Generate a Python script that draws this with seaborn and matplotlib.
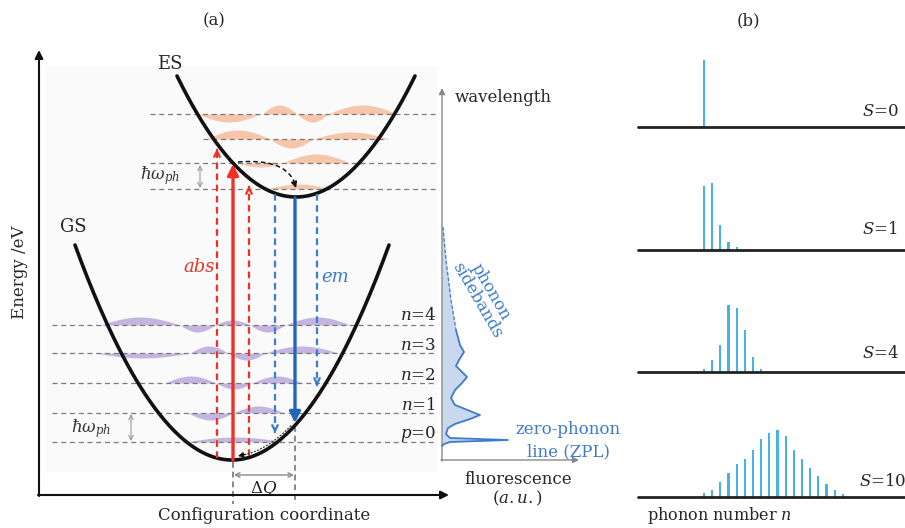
#!/usr/bin/env python3
"""
Configuration-coordinate diagram (a) and Poisson phonon distributions (b).
Panel (a) is drawn in pixel coordinates of a full-figure axes,
panel (b) uses four small axes in phonon-number units.
"""

import numpy as np
import matplotlib.pyplot as plt
import seaborn as sns

# ============================== DATA ========================================
# potential wells: vertex (x, y) and half-width / rise (px)
GS_VERTEX = (232, 460)
GS_HALF, GS_RISE = 157, 215
ES_VERTEX = (296, 197)
ES_HALF, ES_RISE = 119, 121

# vibrational levels (y in px) and their wavefunction lobes (x0, x1, height)
GS_LEVELS = [442, 413, 383, 353, 325]
GS_LABELS = ["$p$=0", "$n$=1", "$n$=2", "$n$=3", "$n$=4"]
GS_LABEL_Y = [434, 406, 376, 346, 316]
GS_LOBES = [
    [(185, 285, 5)],
    [(188, 233, -7), (233, 284, 7)],
    [(165, 216, 7), (216, 252, -6), (252, 302, 7)],
    [(95, 190, -5), (190, 228, 7), (228, 265, -7), (265, 338, 7)],
    [(100, 180, 8), (180, 215, -7), (215, 250, 5), (250, 285, -7), (285, 350, 8)],
]
ES_LEVELS = [189, 163, 139, 114]
ES_LINE_X = [(150, 437), (150, 437), (203, 387), (150, 437)]
ES_LOBES = [
    [(266, 330, 5)],
    [(238, 283, -4), (283, 350, 9)],
    [(206, 270, 9), (270, 313, -9), (313, 389, 7)],
    [(198, 260, -8), (262, 297, 9), (297, 328, -8), (328, 397, 9)],
]

# transitions: x, start y, tip y
ABS_SOLID = (233, 460, 164)
ABS_DASHED = [(217, 458, 146), (249, 456, 183)]
EM_SOLID = (295, 198, 423)
EM_DASHED = [(275, 194, 436), (317, 194, 389)]

# fluorescence spectrum: position along wavelength axis (px) and intensity (px)
SPEC_POS = [227, 260, 300, 330, 345, 352, 360, 366, 372, 377, 383, 390, 398,
            405, 411, 415, 419, 424, 428, 434, 438, 440, 442, 444, 446]
SPEC_INT = [1, 4, 9, 14, 18, 22, 17, 14, 20, 25, 20, 13, 9,
            13, 28, 38, 28, 13, 6, 4, 8, 66, 8, 2, 0]

# panel (b): Huang-Rhys factors and normalised phonon-number intensities
S_VALUES = ["0", "1", "4", "10"]
S_BASELINE = [127, 250, 372, 497]
S_LABEL_Y = [112, 230, 353, 482]
S_LABEL_X = [862, 862, 862, 859]
S0_INT = [1.0]
S1_INT = [0.96, 1.0, 0.38, 0.12, 0.04]
S4_INT = [0.04, 0.18, 0.41, 1.0, 0.95, 0.63, 0.22, 0.04]
S10_INT = [0.06, 0.10, 0.22, 0.36, 0.49, 0.57, 0.70, 0.87, 0.95, 1.0,
           0.91, 0.70, 0.57, 0.44, 0.31, 0.19, 0.10, 0.05]

# ============================== STYLE =======================================
W, H = 905, 528
RED = "#ee3124"
BLUE = "#2166b8"
BLUE_D = "#3d7ccc"
STEM = "#45b3e8"
PURPLE = "#c4b4e0"
ORANGE = "#f6c6aa"
GRAY = "#7a7a7a"

sns.set_theme(style="white")
plt.rcParams["font.family"] = ["DejaVu Serif"]
plt.rcParams["mathtext.fontset"] = "dejavuserif"
FS = 12


def well(vertex, half, rise):
    xs = np.linspace(vertex[0] - half, vertex[0] + half, 200)
    ys = vertex[1] - rise * ((xs - vertex[0]) / half) ** 2
    return xs, ys


def draw_lobes(ax, y0, lobes, color):
    for x0, x1, amp in lobes:
        xs = np.linspace(x0, x1, 40)
        ys = y0 - amp * np.sin(np.pi * (xs - x0) / (x1 - x0))
        ax.fill_between(xs, y0, ys, color=color, lw=0, zorder=1)


def arrow(ax, x, y0, y1, color, lw, dashed=False):
    if dashed:
        step = 7 if y1 < y0 else -7
        ax.plot([x, x], [y0, y1 + step], color=color, lw=lw,
                ls=(0, (3, 2)), zorder=4)
        ax.annotate("", xy=(x, y1), xytext=(x, y1 + step),
                    arrowprops=dict(arrowstyle="->", color=color, lw=lw,
                                    mutation_scale=10), zorder=4)
    else:
        ax.annotate("", xy=(x, y1), xytext=(x, y0),
                    arrowprops=dict(arrowstyle="-|>", color=color, lw=lw,
                                    mutation_scale=16, shrinkA=0, shrinkB=0),
                    zorder=4)


def main():
    fig = plt.figure(figsize=(W / 100, H / 100), dpi=100)
    ax = fig.add_axes([0, 0, 1, 1])
    ax.set_xlim(0, W)
    ax.set_ylim(H, 0)
    ax.axis("off")

    # faint panel background
    ax.add_patch(plt.Rectangle((46, 66), 391, 406, color="#fafafb", lw=0, zorder=0))

    # wavefunction lobes and level lines
    for y0, lobes in zip(GS_LEVELS, GS_LOBES):
        draw_lobes(ax, y0, lobes, PURPLE)
        ax.plot([52, 437], [y0, y0], color=GRAY, lw=0.9, ls=(0, (4, 3)), zorder=2)
    for y0, lobes, (xa, xb) in zip(ES_LEVELS, ES_LOBES, ES_LINE_X):
        draw_lobes(ax, y0, lobes, ORANGE)
        ax.plot([xa, xb], [y0, y0], color=GRAY, lw=0.9, ls=(0, (4, 3)), zorder=2)
    for lab, y in zip(GS_LABELS, GS_LABEL_Y):
        ax.text(436, y, lab, ha="right", va="center", fontsize=FS, color="#222")

    # potential wells
    gx, gy = well(GS_VERTEX, GS_HALF, GS_RISE)
    ex, ey = well(ES_VERTEX, ES_HALF, ES_RISE)
    sns.lineplot(x=gx, y=gy, ax=ax, color="#111", lw=2.6, sort=False, zorder=3)
    sns.lineplot(x=ex, y=ey, ax=ax, color="#111", lw=2.6, sort=False, zorder=3)

    # absorption / emission
    arrow(ax, *ABS_SOLID, RED, 2.4)
    for a in ABS_DASHED:
        arrow(ax, *a, RED, 1.6, dashed=True)
    arrow(ax, *EM_SOLID, BLUE, 2.4)
    for a in EM_DASHED:
        arrow(ax, *a, BLUE_D, 1.6, dashed=True)

    # relaxation in ES (dashed curve)
    t = np.linspace(0, 0.88, 30)
    p0, p1, p2 = np.array([238, 162]), np.array([290, 158]), np.array([296, 188])
    bz = np.outer((1 - t) ** 2, p0) + np.outer(2 * (1 - t) * t, p1) + np.outer(t ** 2, p2)
    ax.plot(bz[:, 0], bz[:, 1], color="#111", lw=1.1, ls=(0, (3, 2)), zorder=5)
    ax.annotate("", xy=p2, xytext=bz[-1], zorder=5,
                arrowprops=dict(arrowstyle="-|>", color="#111", lw=1.0,
                                mutation_scale=9, shrinkA=0, shrinkB=0))

    # relaxation in GS (dotted curve along the well)
    rx = np.linspace(291, 246, 30)
    ry = GS_VERTEX[1] - GS_RISE * ((rx - GS_VERTEX[0]) / GS_HALF) ** 2 - 4
    ax.plot(rx, ry, color="#333", lw=0.9, ls=(0, (1.5, 1.2)), zorder=5)
    ax.annotate("", xy=(238, 456), xytext=(rx[-1], ry[-1]), zorder=5,
                arrowprops=dict(arrowstyle="-|>", color="#111", lw=0.8,
                                mutation_scale=8, shrinkA=0, shrinkB=0))

    # Delta Q
    ax.plot([233, 233], [462, 504], color="#888", lw=1.4, ls=(0, (3, 2)), zorder=2)
    ax.plot([295, 295], [426, 504], color="#888", lw=1.4, ls=(0, (3, 2)), zorder=2)
    ax.annotate("", xy=(234, 475), xytext=(294, 475),
                arrowprops=dict(arrowstyle="<->", color="#888", lw=1.0,
                                mutation_scale=8, shrinkA=0, shrinkB=0))
    ax.text(264, 489, r"$\Delta Q$", ha="center", va="center", fontsize=FS, color="#222")

    # hbar omega markers
    for tx, ty, axx, ya, yb in [(160, 176, 200, 165, 188), (91, 429, 131, 414, 441)]:
        ax.text(tx, ty, r"$\hbar\omega_{ph}$", ha="center", va="center",
                fontsize=FS, color="#333")
        ax.annotate("", xy=(axx, ya), xytext=(axx, yb),
                    arrowprops=dict(arrowstyle="<->", color="#999", lw=0.8,
                                    mutation_scale=8, shrinkA=0, shrinkB=0))

    # main axes arrows
    ax.annotate("", xy=(39, 50), xytext=(39, 496),
                arrowprops=dict(arrowstyle="-|>", color="#111", lw=1.5,
                                mutation_scale=12, shrinkA=0, shrinkB=0))
    ax.annotate("", xy=(449, 495), xytext=(38, 495),
                arrowprops=dict(arrowstyle="-|>", color="#111", lw=1.5,
                                mutation_scale=12, shrinkA=0, shrinkB=0))

    # fluorescence inset axes
    ax.annotate("", xy=(442, 88), xytext=(442, 461),
                arrowprops=dict(arrowstyle="-|>", color="#888", lw=1.0,
                                mutation_scale=9, shrinkA=0, shrinkB=0))
    ax.annotate("", xy=(579, 460), xytext=(441, 460),
                arrowprops=dict(arrowstyle="-|>", color="#888", lw=1.0,
                                mutation_scale=9, shrinkA=0, shrinkB=0))
    sx = 442 + np.array(SPEC_INT)
    sy = np.array(SPEC_POS)
    ax.fill_betweenx(sy, 442, sx, color="#c9d8ee", lw=0, zorder=2)
    top = sy <= 330
    sns.lineplot(x=sx[top], y=sy[top], ax=ax, color=BLUE_D, lw=0.9,
                 ls=(0, (3, 1.5)), sort=False, estimator=None, zorder=3)
    sns.lineplot(x=sx[sy >= 330], y=sy[sy >= 330], ax=ax, color=BLUE_D,
                 lw=1.3, sort=False, estimator=None, zorder=3)

    # texts
    ax.text(214, 21, "(a)", ha="center", va="center", fontsize=FS)
    ax.text(748, 21, "(b)", ha="center", va="center", fontsize=FS)
    ax.text(170, 64, "ES", ha="center", va="center", fontsize=FS + 1)
    ax.text(73, 227, "GS", ha="center", va="center", fontsize=FS + 1)
    ax.text(19, 272, "Energy /eV", ha="center", va="center", rotation=90, fontsize=FS)
    ax.text(264, 516, "Configuration coordinate", ha="center", va="center", fontsize=FS)
    ax.text(199, 267, "abs", ha="center", va="center", fontsize=FS + 1,
            color=RED, style="italic")
    ax.text(335, 277, "em", ha="center", va="center", fontsize=FS + 1,
            color=BLUE_D, style="italic")
    ax.text(455, 97, "wavelength", ha="left", va="center", fontsize=FS)
    ax.text(518, 480, "fluorescence", ha="center", va="center", fontsize=FS)
    ax.text(518, 498, "($a.u.$)", ha="center", va="center", fontsize=FS)
    ax.text(484, 296, "phonon\nsidebands", ha="center", va="center",
            rotation=-60, fontsize=FS, color=BLUE_D, linespacing=0.9)
    ax.text(568, 430, "zero-phonon", ha="center", va="center", fontsize=FS, color=BLUE_D)
    ax.text(568, 452, "line (ZPL)", ha="center", va="center", fontsize=FS, color=BLUE_D)

    # panel (b)
    n0_px, dn_px, unit_px, box_px = 704, 8.17, 67, 90
    x_left, x_right = 638, W
    for s, base, lx, ly, vals in zip(S_VALUES, S_BASELINE, S_LABEL_X, S_LABEL_Y,
                                     [S0_INT, S1_INT, S4_INT, S10_INT]):
        axb = fig.add_axes([x_left / W, (H - base) / H,
                            (x_right - x_left) / W, box_px / H])
        axb.patch.set_alpha(0)
        n = np.arange(len(vals))
        sns.barplot(x=n, y=vals, ax=axb, native_scale=True, width=0.26,
                    color=STEM, saturation=1, linewidth=0, errorbar=None)
        axb.set_xlim((x_left - n0_px) / dn_px, (x_right - n0_px) / dn_px)
        axb.set_ylim(0, box_px / unit_px)
        axb.axhline(0, color="#222", lw=2.0, clip_on=False)
        axb.axis("off")
        ax.text(lx, ly, f"$S$={s}", ha="left", va="center", fontsize=FS)
    ax.text(647, 515, "phonon number $n$", ha="left", va="center", fontsize=FS - 0.5)

    fig.savefig("out.png", dpi=100)
    plt.close(fig)


if __name__ == "__main__":
    main()
